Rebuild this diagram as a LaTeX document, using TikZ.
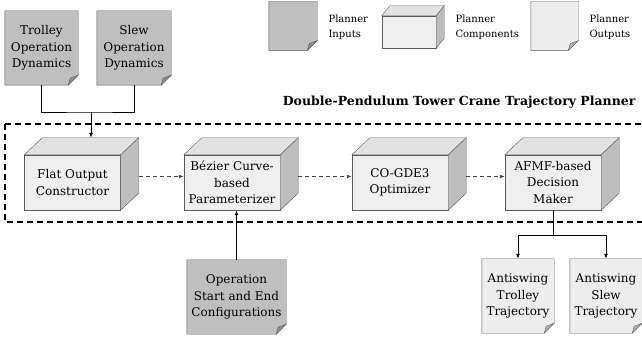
\documentclass[tikz,border=0pt]{standalone}
\usepackage{fontspec}
\setmainfont{DejaVu Serif}
\usepackage{xcolor}
\usetikzlibrary{arrows.meta,positioning,calc,backgrounds}

\definecolor{inpgray}{HTML}{BFBFBF}
\definecolor{boxgray}{HTML}{EFEFEF}
\definecolor{topgray}{HTML}{E2E2E2}
\definecolor{sidegray}{HTML}{BDBDBD}
\definecolor{outgray}{HTML}{EDEDED}
\definecolor{edgegray}{HTML}{5A5A5A}

% page with a folded corner, drawn round a named node
\newcommand{\pagedoc}[2]{%
  \draw[edgegray, fill=#2] (#1.north west) -- (#1.north east) -- ([yshift=10pt]#1.south east)
    -- ([xshift=-10pt]#1.south east) -- (#1.south west) -- cycle;
  \draw[edgegray, fill=#2!75!black] ([xshift=-10pt]#1.south east) -- ([xshift=-8pt,yshift=7pt]#1.south east)
    -- ([yshift=10pt]#1.south east) -- cycle;
}

\begin{document}
\begin{tikzpicture}[x=1pt, y=-1pt, >={Latex[length=5pt,width=4pt]},
  font=\fontsize{12}{16.5}\selectfont,
  doc/.style={minimum width=#1, minimum height=74pt, align=center, inner sep=1pt},
  doc/.default=73pt,
  cube/.style={draw=edgegray, fill=boxgray, minimum width=96pt, minimum height=55pt, align=center, inner sep=1pt},
  legtxt/.style={anchor=west, align=left, font=\fontsize{10}{15}\selectfont},
  flow/.style={->, edgegray!80!black, line width=1.1pt, dash pattern=on 4pt off 3pt}]
\useasboundingbox (0,0) rectangle (642,344);

% legend
\node[doc=48pt, minimum height=49pt] (lgi) at (293,26) {};
\node[legtxt] (lgit) at (325,27) {Planner\\Inputs};
\node[cube, minimum width=54pt, minimum height=32pt] (lgc) at (409,32) {};
\node[legtxt] (lgct) at (452,27) {Planner\\Components};
\node[doc=47pt, minimum height=49pt] (lgo) at (554.5,26) {};
\node[legtxt] (lgot) at (586,27) {Planner\\Outputs};

% inputs
\node[doc] (tod) at (41.5,48) {Trolley\\Operation\\Dynamics};
\node[doc=74pt] (sod) at (134,48) {Slew\\Operation\\Dynamics};
\node[doc=99pt] (osc) at (236.5,297) {Operation\\Start and End\\Configurations};

% planner
\node[anchor=east, font=\fontsize{12.5}{16}\bfseries] (ttl) at (639,102) {Double-Pendulum Tower Crane Trajectory Planner};
\draw[line width=1.1pt, dash pattern=on 6pt off 4pt] (5,124) rectangle (660,222);
\node[cube] (fo) at (72.5,182.5) {Flat Output\\Constructor};
\node[cube] (bz) at (232,182.5) {Bézier Curve-\\based\\Parameterizer};
\node[cube] (co) at (400,182.5) {CO-GDE3\\Optimizer};
\node[cube] (af) at (553,182.5) {AFMF-based\\Decision\\Maker};

% outputs
\node[doc=72pt] (ast) at (518,296) {Antiswing\\Trolley\\Trajectory};
\node[doc=72pt] (ass) at (606,296) {Antiswing\\Slew\\Trajectory};

\begin{scope}[on background layer]
\pagedoc{lgi}{inpgray}
\pagedoc{lgo}{outgray}
\pagedoc{tod}{inpgray}
\pagedoc{sod}{inpgray}
\pagedoc{osc}{inpgray}
\pagedoc{ast}{outgray}
\pagedoc{ass}{outgray}
\end{scope}

\foreach \n/\dx/\dy in {fo/18/17, bz/18/17, co/18/17, af/18/17, lgc/8/10} {
  \draw[edgegray, fill=topgray] (\n.north west) -- (\n.north east) -- ([shift={(\dx pt,\dy pt)}]\n.north east)
    -- ([shift={(\dx pt,\dy pt)}]\n.north west) -- cycle;
  \draw[edgegray, fill=sidegray] (\n.north east) -- ([shift={(\dx pt,\dy pt)}]\n.north east)
    -- ([shift={(\dx pt,\dy pt)}]\n.south east) -- (\n.south east) -- cycle;
}

% connectors
\coordinate (jn) at (91,112);
\draw[line width=0.9pt] (tod.south) |- (jn) -| (sod.south);
\draw[->, line width=0.9pt] (jn) -- ([shift={(0pt,17pt)}]jn |- fo.north);
\foreach \a/\b in {fo/bz, bz/co, co/af}
  \draw[flow] ([shift={(18pt,6pt)}]\a.east) -- ([yshift=6pt]\b.west);
\draw[->, line width=0.9pt] (osc.north) -- (osc.north |- bz.south);
\coordinate (sp) at (553,235);
\draw[line width=0.9pt] (af.south) -- (sp);
\draw[->, line width=0.9pt] (sp) -| (ast.north);
\draw[->, line width=0.9pt] (sp) -| (ass.north);
\end{tikzpicture}
\end{document}
